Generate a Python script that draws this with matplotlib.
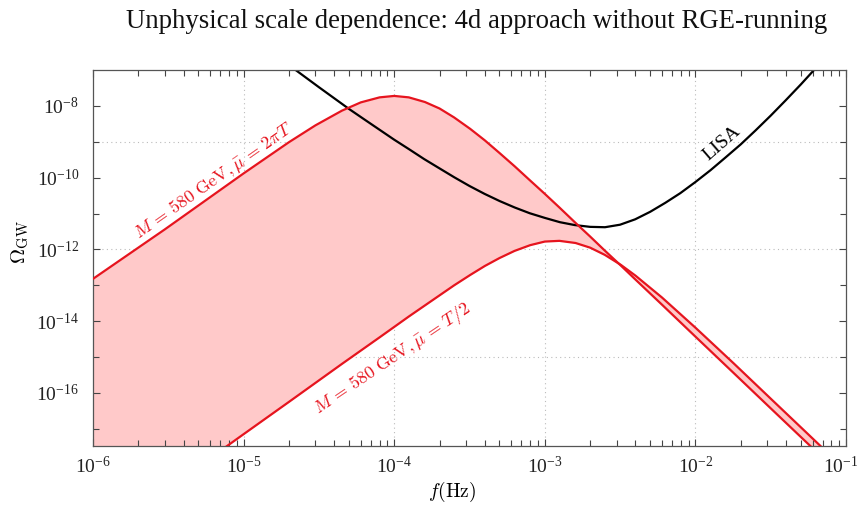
import numpy as np
import matplotlib
matplotlib.use('Agg')
import matplotlib.pyplot as plt
from matplotlib.ticker import FixedLocator, LogFormatterMathtext, NullFormatter, LogLocator
from matplotlib.transforms import ScaledTranslation

freq = [1e-6, 3e-6, 1e-5, 2e-5, 3e-5, 4.5e-5, 6e-5, 8e-5, 1e-4, 1.25e-4,
        1.6e-4, 2e-4, 2.5e-4, 3.2e-4, 4e-4, 5e-4, 6.3e-4, 8e-4, 1e-3, 1.25e-3,
        1.6e-3, 2e-3, 2.5e-3, 3.2e-3, 4e-3, 6e-3, 1e-2, 1.8e-2, 3.2e-2, 5.6e-2, 8e-2]

# log10(Omega_GW), M = 580 GeV, mu = 2 pi T
log_upper = [-12.82, -11.44, -9.88, -9.01, -8.54, -8.13, -7.90, -7.76, -7.72, -7.76,
             -7.89, -8.07, -8.32, -8.64, -8.96, -9.31, -9.68, -10.08, -10.45, -10.83,
             -11.26, -11.64, -12.03, -12.45, -12.84, -13.54, -14.43, -15.45, -16.45, -17.42, -18.04]

# log10(Omega_GW), M = 580 GeV, mu = T/2
log_lower = [-20.15, -18.72, -17.15, -16.25, -15.72, -15.19, -14.82, -14.45, -14.16, -13.87,
             -13.56, -13.28, -13.00, -12.71, -12.46, -12.24, -12.04, -11.88, -11.78, -11.76,
             -11.82, -11.95, -12.15, -12.43, -12.73, -13.34, -14.18, -15.18, -16.18, -17.15, -17.77]

# LISA sensitivity curve
lisa_f = [2.0e-5, 3.16e-5, 5.0e-5, 6.31e-5, 1e-4, 1.26e-4, 1.58e-4, 2.0e-4, 2.51e-4, 3.16e-4,
          3.98e-4, 5.01e-4, 6.31e-4, 7.94e-4, 1e-3, 1.26e-3, 1.58e-3, 2.0e-3, 2.51e-3, 3.16e-3,
          3.98e-3, 5.01e-3, 6.31e-3, 7.94e-3, 1e-2, 1.26e-2, 1.58e-2, 2.0e-2, 2.51e-2, 3.16e-2,
          3.98e-2, 5.01e-2, 6.31e-2]
lisa_log = [-6.86, -7.475, -8.08, -8.37, -8.94, -9.21, -9.48, -9.74, -9.99, -10.23,
            -10.45, -10.65, -10.83, -10.99, -11.12, -11.24, -11.32, -11.37, -11.38, -11.31,
            -11.16, -10.95, -10.70, -10.43, -10.12, -9.79, -9.44, -9.07, -8.68, -8.27,
            -7.84, -7.40, -6.94]

xtick_major = [1e-6, 1e-5, 1e-4, 1e-3, 1e-2, 1e-1]
ytick_major = [1e-16, 1e-14, 1e-12, 1e-10, 1e-8]
ytick_minor = [1e-17, 1e-15, 1e-13, 1e-11, 1e-9]
vgrid = [1e-5, 1e-4, 1e-3, 1e-2]
hgrid = [1e-9, 1e-12, 1e-15]

title = "Unphysical scale dependence: 4d approach without RGE-running"
label_hi = r"$M\,=\,580\ \mathrm{GeV}, \bar{\mu}\,=\,2\pi T$"
label_lo = r"$M\,=\,580\ \mathrm{GeV}, \bar{\mu}\,=\,T/2$"

plt.rcParams['mathtext.fontset'] = 'cm'
plt.rcParams['font.family'] = ['Liberation Serif', 'DejaVu Serif']

red = '#e6141e'
pink = '#ffc9c9'

fig = plt.figure(figsize=(8.61, 5.08), dpi=100)
ax = fig.add_axes([0.108, 0.122, 0.8746, 0.740])

upper = 10.0 ** np.array(log_upper)
lower = 10.0 ** np.array(log_lower)
lisa = 10.0 ** np.array(lisa_log)

for g in vgrid:
    ax.axvline(g, color='#bbbbbb', lw=0.8, ls=(0, (1, 3)), zorder=0)
for g in hgrid:
    ax.axhline(g, color='#bbbbbb', lw=0.8, ls=(0, (1, 3)), zorder=0)

ax.fill_between(freq, upper, lower, color=pink, lw=0, zorder=1)
ax.plot(freq, upper, color=red, lw=1.6, zorder=3)
ax.plot(freq, lower, color=red, lw=1.6, zorder=3)
ax.plot(lisa_f, lisa, color='black', lw=1.6, zorder=2)

ax.set_xscale('log')
ax.set_yscale('log')
ax.set_xlim(1e-6, 1e-1)
ax.set_ylim(10 ** -17.48, 1e-7)

ax.xaxis.set_major_locator(FixedLocator(xtick_major))
ax.xaxis.set_major_formatter(LogFormatterMathtext())
ax.xaxis.set_minor_locator(LogLocator(base=10, subs=np.arange(2, 10), numticks=20))
ax.xaxis.set_minor_formatter(NullFormatter())
ax.yaxis.set_major_locator(FixedLocator(ytick_major))
ax.yaxis.set_minor_locator(FixedLocator(ytick_minor))
ax.yaxis.set_major_formatter(LogFormatterMathtext())
ax.yaxis.set_minor_formatter(NullFormatter())

ax.tick_params(which='both', direction='in', top=True, right=True,
               color='#444444', labelsize=14, labelcolor='#222222')
ax.tick_params(which='major', length=5, width=0.8)
ax.tick_params(which='minor', length=4, width=0.8)
ax.tick_params(axis='x', pad=7)
ax.tick_params(axis='y', pad=10)
for s in ax.spines.values():
    s.set_color('#555555')
    s.set_linewidth(0.9)

# nudge the last x label so it stays inside the figure
last = ax.get_xticklabels()[-1]
last.set_transform(last.get_transform() + ScaledTranslation(-5 / 100, 0, fig.dpi_scale_trans))

ax.text(6.3e-6, 8.3e-11, label_hi, color=red, fontsize=13, rotation=35,
        ha='center', va='center', rotation_mode='anchor')
ax.text(9.8e-5, 8.7e-16, label_lo, color=red, fontsize=13, rotation=34,
        ha='center', va='center', rotation_mode='anchor')
ax.text(1.5e-2, 9.3e-10, "LISA", color='black', fontsize=14, rotation=41,
        ha='center', va='center', rotation_mode='anchor')

fig.text(0.553, 0.957, title, ha='center', va='center', fontsize=19.3, color='#111111')
fig.text(0.525, 0.031, r"$f(\mathrm{Hz})$", ha='center', va='center', fontsize=14)
fig.text(0.024, 0.524, r"$\Omega_{\rm GW}$", ha='center', va='center', fontsize=15, rotation=90)

fig.savefig('out.png', dpi=100)
